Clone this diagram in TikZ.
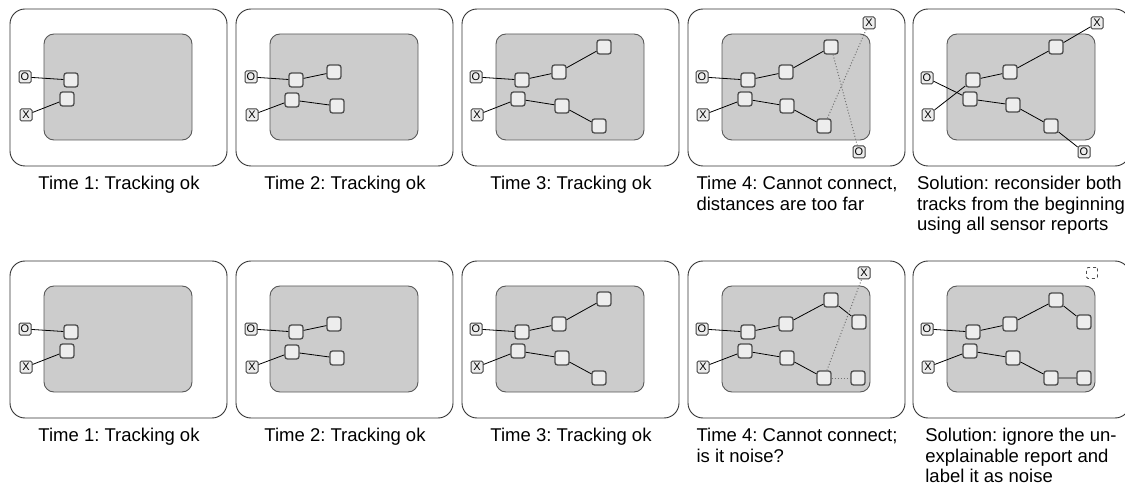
\documentclass[tikz,border=0pt]{standalone}
\usepackage{fontspec}
\setmainfont{Liberation Sans}
\frenchspacing

\begin{document}
\begin{tikzpicture}[x=1pt,y=-1pt,
  frame/.style={draw=black!80, line width=0.9pt, rounded corners=15pt},
  area/.style={draw=black!65, fill=black!20, line width=0.9pt, rounded corners=10pt},
  report/.style={draw=black!70, fill=black!7, line width=1.3pt, rounded corners=2.5pt,
    minimum size=14pt, inner sep=0pt},
  tag/.style={draw=black!75, fill=black!7, line width=1pt, rounded corners=1.5pt,
    minimum size=12pt, inner sep=0pt, font=\fontsize{11}{11}\selectfont},
  ghost/.style={draw=black!70, dashed, line width=0.8pt, rounded corners=1.5pt,
    minimum size=11pt, inner sep=0pt},
  link/.style={black, line width=0.8pt},
  guess/.style={black!55, dotted, line width=1pt},
  caption/.style={anchor=north, align=left, inner sep=0pt,
    font=\fontsize{18.5}{20.5}\selectfont}]

\useasboundingbox (0,0) rectangle (1125,489);

% Times 1-3, the same in both rows
\foreach \dy in {0,252}{

  % Time 1
  \begin{scope}[shift={(10,\dy)}]
    \draw[frame] (0,9) rectangle (217,166);
    \draw[area] (34,34) rectangle (182,140);
    \node[tag] (o) at (15,77) {O};
    \node[tag] (x) at (16,115) {X};
    \node[report] (a1) at (61,80) {};
    \node[report] (b1) at (57,99) {};
    \draw[link] (o) -- (a1);
    \draw[link] (x) -- (b1);
    \node[caption] (cap) at (109,176) {Time 1: Tracking ok};
  \end{scope}

  % Time 2
  \begin{scope}[shift={(236,\dy)}]
    \draw[frame] (0,9) rectangle (217,166);
    \draw[area] (34,34) rectangle (182,140);
    \node[tag] (o) at (15,77) {O};
    \node[tag] (x) at (16,115) {X};
    \node[report] (a1) at (60,80) {};
    \node[report] (a2) at (98,72) {};
    \node[report] (b1) at (56,100) {};
    \node[report] (b2) at (101,106) {};
    \draw[link] (o) -- (a1) -- (a2);
    \draw[link] (x) -- (b1) -- (b2);
    \node[caption] (cap) at (109,176) {Time 2: Tracking ok};
  \end{scope}

  % Time 3
  \begin{scope}[shift={(462,\dy)}]
    \draw[frame] (0,9) rectangle (217,166);
    \draw[area] (34,34) rectangle (182,140);
    \node[tag] (o) at (14,77) {O};
    \node[tag] (x) at (15,115) {X};
    \node[report] (a1) at (60,80) {};
    \node[report] (a2) at (97,72) {};
    \node[report] (a3) at (142,47) {};
    \node[report] (b1) at (56,99) {};
    \node[report] (b2) at (100,106) {};
    \node[report] (b3) at (137,126) {};
    \draw[link] (o) -- (a1) -- (a2) -- (a3);
    \draw[link] (x) -- (b1) -- (b2) -- (b3);
    \node[caption] (cap) at (109,176) {Time 3: Tracking ok};
  \end{scope}
}

% Time 4, upper row: both far off
\begin{scope}[shift={(688,0)}]
  \draw[frame] (0,9) rectangle (217,166);
  \draw[area] (34,34) rectangle (182,140);
  \node[tag] (o) at (14,77) {O};
  \node[tag] (x) at (15,115) {X};
  \node[report] (a1) at (60,80) {};
  \node[report] (a2) at (98,72) {};
  \node[report] (a3) at (143,47) {};
  \node[report] (b1) at (57,99) {};
  \node[report] (b2) at (99,106) {};
  \node[report] (b3) at (136,126) {};
  \node[tag] (xfar) at (181,23) {X};
  \node[tag] (ofar) at (171,152) {O};
  \draw[link] (o) -- (a1) -- (a2) -- (a3);
  \draw[link] (x) -- (b1) -- (b2) -- (b3);
  \draw[guess] (a3) -- (ofar);
  \draw[guess] (b3) -- (xfar);
  \node[caption] (cap) at (109,176) {Time 4: Cannot connect,\\distances are too far};
\end{scope}

% Solution, upper row
\begin{scope}[shift={(913,0)}]
  \draw[frame] (0,9) rectangle (217,166);
  \draw[area] (34,34) rectangle (182,140);
  \node[tag] (o) at (14,78) {O};
  \node[tag] (x) at (15,115) {X};
  \node[report] (a1) at (60,80) {};
  \node[report] (a2) at (97,72) {};
  \node[report] (a3) at (143,47) {};
  \node[report] (b1) at (57,99) {};
  \node[report] (b2) at (100,105) {};
  \node[report] (b3) at (138,126) {};
  \node[tag] (xfar) at (184,23) {X};
  \node[tag] (ofar) at (171,152) {O};
  \draw[link] (x) -- (a1) -- (a2) -- (a3) -- (xfar);
  \draw[link] (o) -- (b1) -- (b2) -- (b3) -- (ofar);
  \node[caption] (cap) at (108,176) {Solution: reconsider both\\tracks from the beginning\\using all sensor reports};
\end{scope}

% Time 4, lower row: one report too far
\begin{scope}[shift={(688,252)}]
  \draw[frame] (0,9) rectangle (217,166);
  \draw[area] (34,34) rectangle (182,140);
  \node[tag] (o) at (14,77) {O};
  \node[tag] (x) at (15,115) {X};
  \node[report] (a1) at (60,80) {};
  \node[report] (a2) at (98,72) {};
  \node[report] (a3) at (143,48) {};
  \node[report] (a4) at (171,70) {};
  \node[report] (b1) at (57,99) {};
  \node[report] (b2) at (99,106) {};
  \node[report] (b3) at (136,126) {};
  \node[report] (b4) at (170,126) {};
  \node[tag] (xfar) at (176,21) {X};
  \draw[link] (o) -- (a1) -- (a2) -- (a3) -- (a4);
  \draw[link] (x) -- (b1) -- (b2) -- (b3);
  \draw[guess] (b3) -- (xfar);
  \draw[guess] (b3) -- (b4);
  \node[caption] (cap) at (109,176) {Time 4: Cannot connect;\\is it noise?};
\end{scope}

% Solution, lower row
\begin{scope}[shift={(913,252)}]
  \draw[frame] (0,9) rectangle (217,166);
  \draw[area] (34,34) rectangle (182,140);
  \node[tag] (o) at (14,77) {O};
  \node[tag] (x) at (15,115) {X};
  \node[report] (a1) at (60,80) {};
  \node[report] (a2) at (97,72) {};
  \node[report] (a3) at (143,48) {};
  \node[report] (a4) at (171,70) {};
  \node[report] (b1) at (57,99) {};
  \node[report] (b2) at (100,106) {};
  \node[report] (b3) at (138,126) {};
  \node[report] (b4) at (171,126) {};
  \node[ghost] (noise) at (179,21) {};
  \draw[link] (o) -- (a1) -- (a2) -- (a3) -- (a4);
  \draw[link] (x) -- (b1) -- (b2) -- (b3) -- (b4);
  \node[caption] (cap) at (108,176) {Solution: ignore the un-\\explainable report and\\label it as noise};
\end{scope}

\end{tikzpicture}
\end{document}
